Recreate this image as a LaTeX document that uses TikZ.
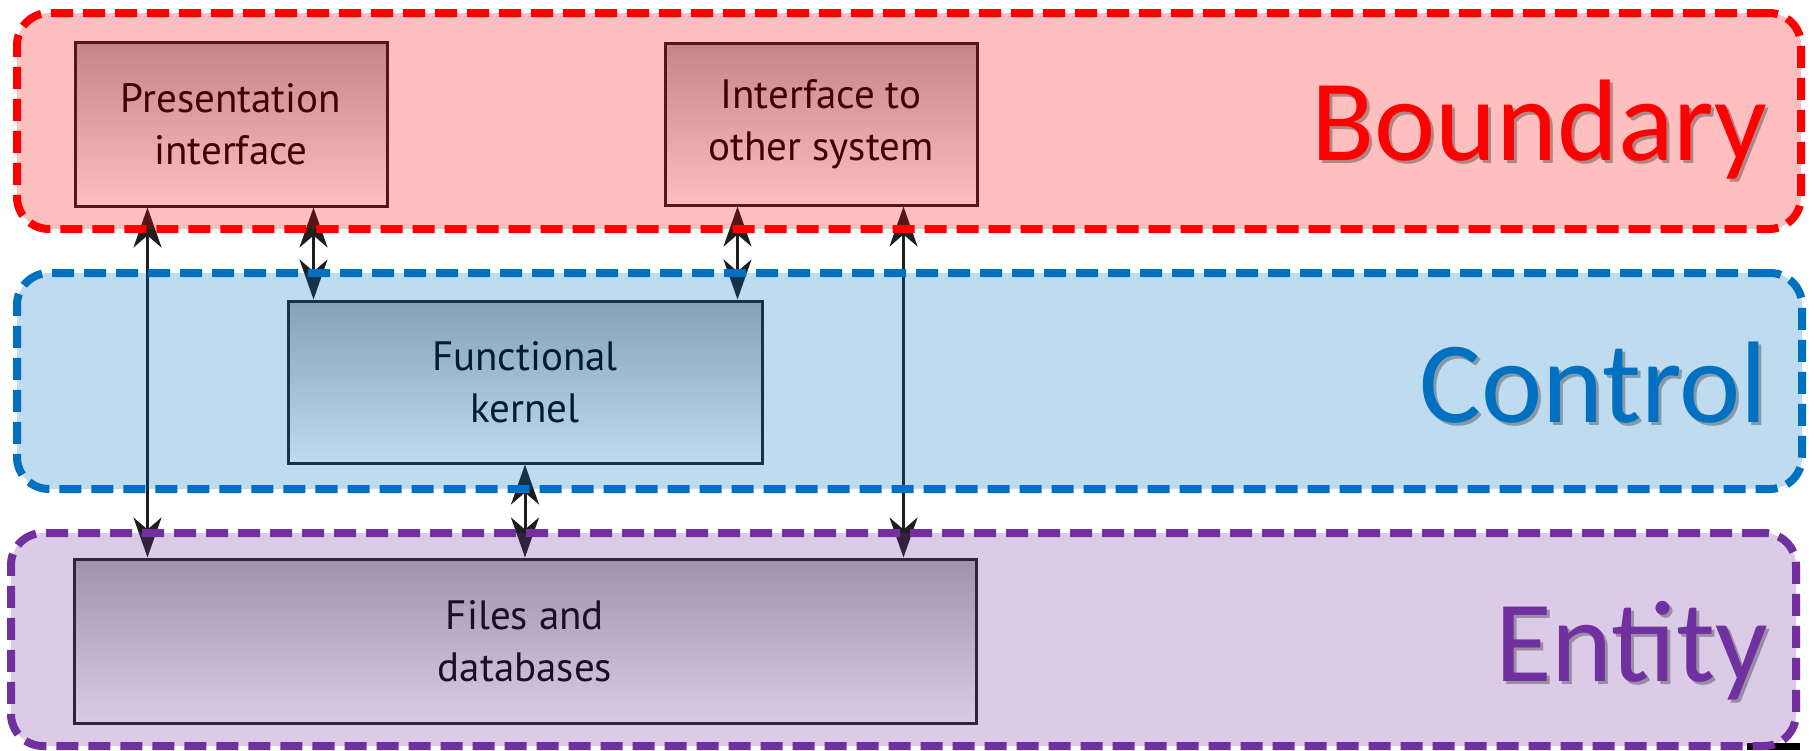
\documentclass[tikz,border=0pt]{standalone}
\usepackage{fontspec}
\usepackage{xcolor}
\usepackage{tikz}
\usetikzlibrary{arrows.meta,positioning,calc}
\newfontfamily\tagfont{Carlito}
\newfontfamily\boxfont{PT Sans}
\definecolor{boundaryred}{HTML}{FF0000}
\definecolor{controlblue}{HTML}{0070C0}
\definecolor{entitypurple}{HTML}{7030A0}
\definecolor{ink}{HTML}{1E1E1E}
\tikzset{
  layerbox/.style={
    draw=ink,line width=1.5pt,inner sep=0pt,
    top color=black!30,middle color=black!7,bottom color=white,
    text=black,align=center,
    font=\boxfont\fontsize{20.5}{26}\selectfont
  },
  band/.style={
    rectangle,rounded corners=16pt,inner sep=0pt,
    draw=#1,fill=#1,fill opacity=.25,draw opacity=1,
    line width=4pt,dash pattern=on 11pt off 5pt
  },
  tag/.style={
    anchor=base east,inner sep=0pt,text=#1,
    font=\tagfont\fontsize{58}{60}\selectfont
  },
  tagshadow/.style={
    anchor=base east,inner sep=0pt,text=black,text opacity=.3,
    font=\tagfont\fontsize{58}{60}\selectfont
  },
  link/.style={
    {Stealth[length=20pt,width=14pt,inset=6pt]}-{Stealth[length=20pt,width=14pt,inset=6pt]},
    draw=ink,line width=1.5pt
  }
}

\begin{document}
\begin{tikzpicture}[x=0.5pt,y=-0.5pt]
\useasboundingbox (0,0) rectangle (1814,750);

% the four boxes
\node[layerbox,minimum width=156pt,minimum height=82pt] (pres) at (231,124)
{Presentation\\interface};
\node[layerbox,minimum width=156pt,minimum height=81pt] (iface) at (821,124)
{Interface to\\other system};
\node[layerbox,minimum width=237pt,minimum height=81pt] (kernel) at (525,382)
{Functional\\kernel};
\node[layerbox,minimum width=451pt,minimum height=82pt] (files) at (525,641)
{Files and\\databases};

% links between them
\draw[link] ([xshift=37pt]pres.south west) -- ([xshift=37pt]pres.south west |- files.north);
\draw[link] ([xshift=-37.5pt]pres.south east) -- ([xshift=-37.5pt]pres.south east |- kernel.north);
\draw[link] ([xshift=37pt]iface.south west) -- ([xshift=37pt]iface.south west |- kernel.north);
\draw[link] ([xshift=-37.5pt]iface.south east) -- ([xshift=-37.5pt]iface.south east |- files.north);
\draw[link] (kernel.south) -- (files.north);

\fill[black] (1747,743) rectangle (1800,750);

% coloured layers on top
\node[band=boundaryred,minimum width=892pt,minimum height=108pt] (boundary) at (909,121) {};
\node[band=controlblue,minimum width=892.5pt,minimum height=108pt] (control) at (909.5,381) {};
\node[band=entitypurple,minimum width=892.5pt,minimum height=106.5pt] (entity) at (903.5,639.5) {};

\node[tagshadow] (boundary-sh) at (1771,163) {Boundary};
\node[tag=boundaryred] (boundary-tag) at (1768,160) {Boundary};
\node[tagshadow] (control-sh) at (1771,425) {Control};
\node[tag=controlblue] (control-tag) at (1768,422) {Control};
\node[tagshadow] (entity-sh) at (1771,684) {Entity};
\node[tag=entitypurple] (entity-tag) at (1768,681) {Entity};
\end{tikzpicture}
\end{document}
